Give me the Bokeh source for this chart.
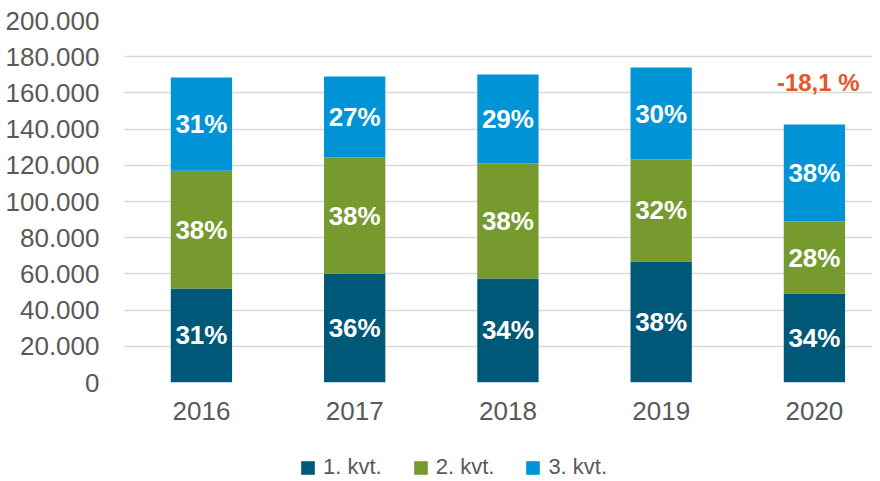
from bokeh.plotting import figure
from bokeh.layouts import column
from bokeh.models import ColumnDataSource, Legend, LegendItem, Label, FixedTicker
from bokeh.core.properties import value
from bokeh.embed import file_html
from bokeh.resources import INLINE

years = ["2016", "2017", "2018", "2019", "2020"]
q1 = [52000, 60200, 57500, 66900, 49200]
q2 = [65000, 64100, 63500, 56300, 39700]
q3 = [51500, 44700, 49200, 50800, 53600]
q1_pct = ["31%", "36%", "34%", "38%", "34%"]
q2_pct = ["38%", "38%", "38%", "32%", "28%"]
q3_pct = ["31%", "27%", "29%", "30%", "38%"]
series_names = ["1. kvt.", "2. kvt.", "3. kvt."]
change_label = "-18,1 %"
y_ticks = [0, 20000, 40000, 60000, 80000, 100000, 120000, 140000, 160000, 180000, 200000]
y_tick_labels = ["0", "20.000", "40.000", "60.000", "80.000", "100.000", "120.000",
                 "140.000", "160.000", "180.000", "200.000"]

colors = ["#005878", "#779A2E", "#0093D6"]
FONT = "Liberation Sans"
GREY = "#595959"

xs = list(range(len(years)))
b1 = [0] * len(years)
t1 = q1
t2 = [a + b for a, b in zip(q1, q2)]
t3 = [a + b for a, b in zip(t2, q3)]

src = ColumnDataSource(dict(
    x=xs, b1=b1, t1=t1, t2=t2, t3=t3,
    m1=[(a + b) / 2 for a, b in zip(b1, t1)],
    m2=[(a + b) / 2 for a, b in zip(t1, t2)],
    m3=[(a + b) / 2 for a, b in zip(t2, t3)],
    p1=q1_pct, p2=q2_pct, p3=q3_pct,
))

p = figure(width=872, height=436, output_backend="svg", toolbar_location=None,
           x_range=(-0.502, 4.379), y_range=(0, 200000),
           min_border_left=124, min_border_right=0, min_border_top=20, min_border_bottom=54)
p.outline_line_color = None
p.background_fill_color = "white"
p.border_fill_color = "white"

bw = 0.4
layers = [("b1", "t1"), ("t1", "t2"), ("t2", "t3")]
for (lo, hi), c in zip(layers, colors):
    p.vbar(x="x", bottom=lo, top=hi, width=bw, source=src, fill_color=c, line_color=None)

for m, t in [("m1", "p1"), ("m2", "p2"), ("m3", "p3")]:
    p.text(x="x", y=m, text=t, source=src, text_align="center", text_baseline="middle",
           text_color="white", text_font=value(FONT), text_font_style="bold",
           text_font_size="26px")

p.add_layout(Label(x=4.025, y=166000, text=change_label, text_align="center", text_baseline="middle",
                   text_color="#E8542A", text_font=FONT, text_font_style="bold",
                   text_font_size="24px"))

# axes
p.xaxis.ticker = FixedTicker(ticks=xs)
p.xaxis.major_label_overrides = {i: y for i, y in enumerate(years)}
p.yaxis.ticker = FixedTicker(ticks=y_ticks)
p.yaxis.major_label_overrides = {t: l for t, l in zip(y_ticks, y_tick_labels)}
for ax in (p.xaxis[0], p.yaxis[0]):
    ax.axis_line_color = None
    ax.major_tick_line_color = None
    ax.minor_tick_line_color = None
    ax.major_label_text_font = FONT
    ax.major_label_text_font_size = "26px"
    ax.major_label_text_color = GREY
p.yaxis.major_label_standoff = 19
p.xaxis.major_label_standoff = 13

p.xgrid.grid_line_color = None
p.ygrid.ticker = FixedTicker(ticks=y_ticks)
p.ygrid.grid_line_color = "#d9d9d9"
p.ygrid.grid_line_width = 1.5

# legend strip: same stacked-bar renderers, kept out of view, supply the swatches
lf = figure(width=872, height=44, output_backend="svg", toolbar_location=None,
            x_range=(-20, -19), y_range=(0, 1), min_border=0)
lf.axis.visible = False
lf.grid.visible = False
lf.outline_line_color = None
swatches = [lf.vbar(x="x", bottom=lo, top=hi, width=bw, source=src, fill_color=c, line_color=None)
            for (lo, hi), c in zip(layers, colors)]
legend = Legend(items=[LegendItem(label=n, renderers=[r]) for n, r in zip(series_names, swatches)],
                orientation="horizontal", location=(175, 0),
                padding=0, margin=0, spacing=30, glyph_width=17, glyph_height=17,
                label_standoff=7, label_text_font=FONT, label_text_font_size="22px",
                label_text_color=GREY, border_line_color=None, background_fill_alpha=0)
lf.add_layout(legend, "center")

open("out.html", "w").write(file_html(column(p, lf, spacing=0), INLINE))
